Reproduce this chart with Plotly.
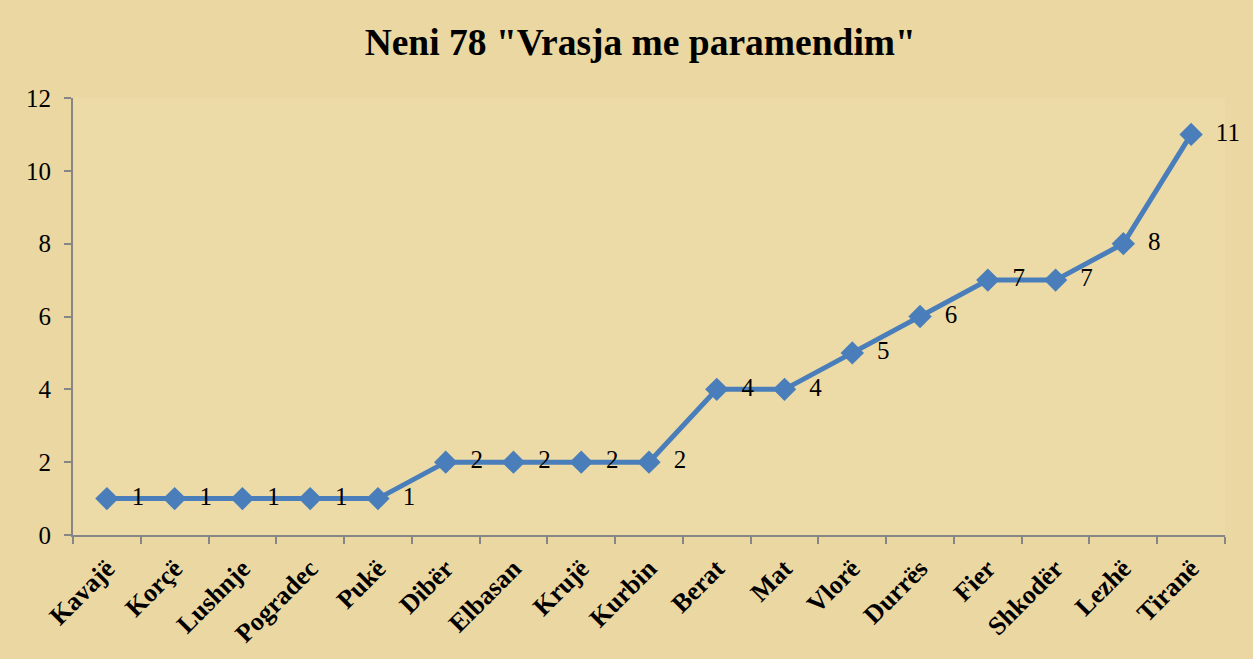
import plotly.graph_objects as go

categories = ["Kavajë", "Korçë", "Lushnje", "Pogradec", "Pukë", "Dibër", "Elbasan",
              "Krujë", "Kurbin", "Berat", "Mat", "Vlorë", "Durrës", "Fier",
              "Shkodër", "Lezhë", "Tiranë"]
values = [1, 1, 1, 1, 1, 2, 2, 2, 2, 4, 4, 5, 6, 7, 7, 8, 11]
y_ticks = [0, 2, 4, 6, 8, 10, 12]

serif = "Liberation Serif, Times New Roman, serif"

fig = go.Figure()
fig.add_trace(go.Scatter(
    x=categories, y=values,
    mode="lines+markers+text",
    line=dict(color="#4A7EBB", width=5),
    marker=dict(symbol="diamond", size=18, color="#4A7EBB"),
    text=[str(v) for v in values],
    texttemplate="  %{text}",
    textposition="middle right",
    textfont=dict(family=serif, size=25, color="#000000"),
    cliponaxis=False,
    showlegend=False,
))

fig.update_layout(
    width=1253, height=659,
    paper_bgcolor="#EAD7A2",
    plot_bgcolor="#EDDBA7",
    margin=dict(l=73, r=28, t=98, b=124),
    title=dict(text="<b>Neni 78 \"Vrasja me paramendim\"</b>",
               x=0.511, xanchor="center", y=0.937, yanchor="middle",
               font=dict(family=serif, size=37.5, color="#000000")),
    xaxis=dict(
        type="category",
        range=[-0.5, len(categories) - 0.5],
        tickangle=-45,
        tickfont=dict(family=serif, size=26, color="#000000", weight="bold"),
        ticklabelstandoff=6,
        showline=True, linecolor="#868686", linewidth=2,
        ticks="outside", tickson="boundaries", ticklen=7, tickcolor="#868686", tickwidth=2,
        showgrid=False, zeroline=False,
    ),
    yaxis=dict(
        range=[0, 12],
        tickvals=y_ticks,
        tickfont=dict(family=serif, size=25, color="#000000"),
        ticklabelstandoff=8,
        showline=True, linecolor="#868686", linewidth=2,
        ticks="outside", ticklen=7, tickcolor="#868686", tickwidth=2,
        showgrid=False, zeroline=False,
    ),
)

fig.write_html("out.html", config={"displayModeBar": False},
               post_script="document.body.style.margin='0';document.body.style.overflow='hidden';")
